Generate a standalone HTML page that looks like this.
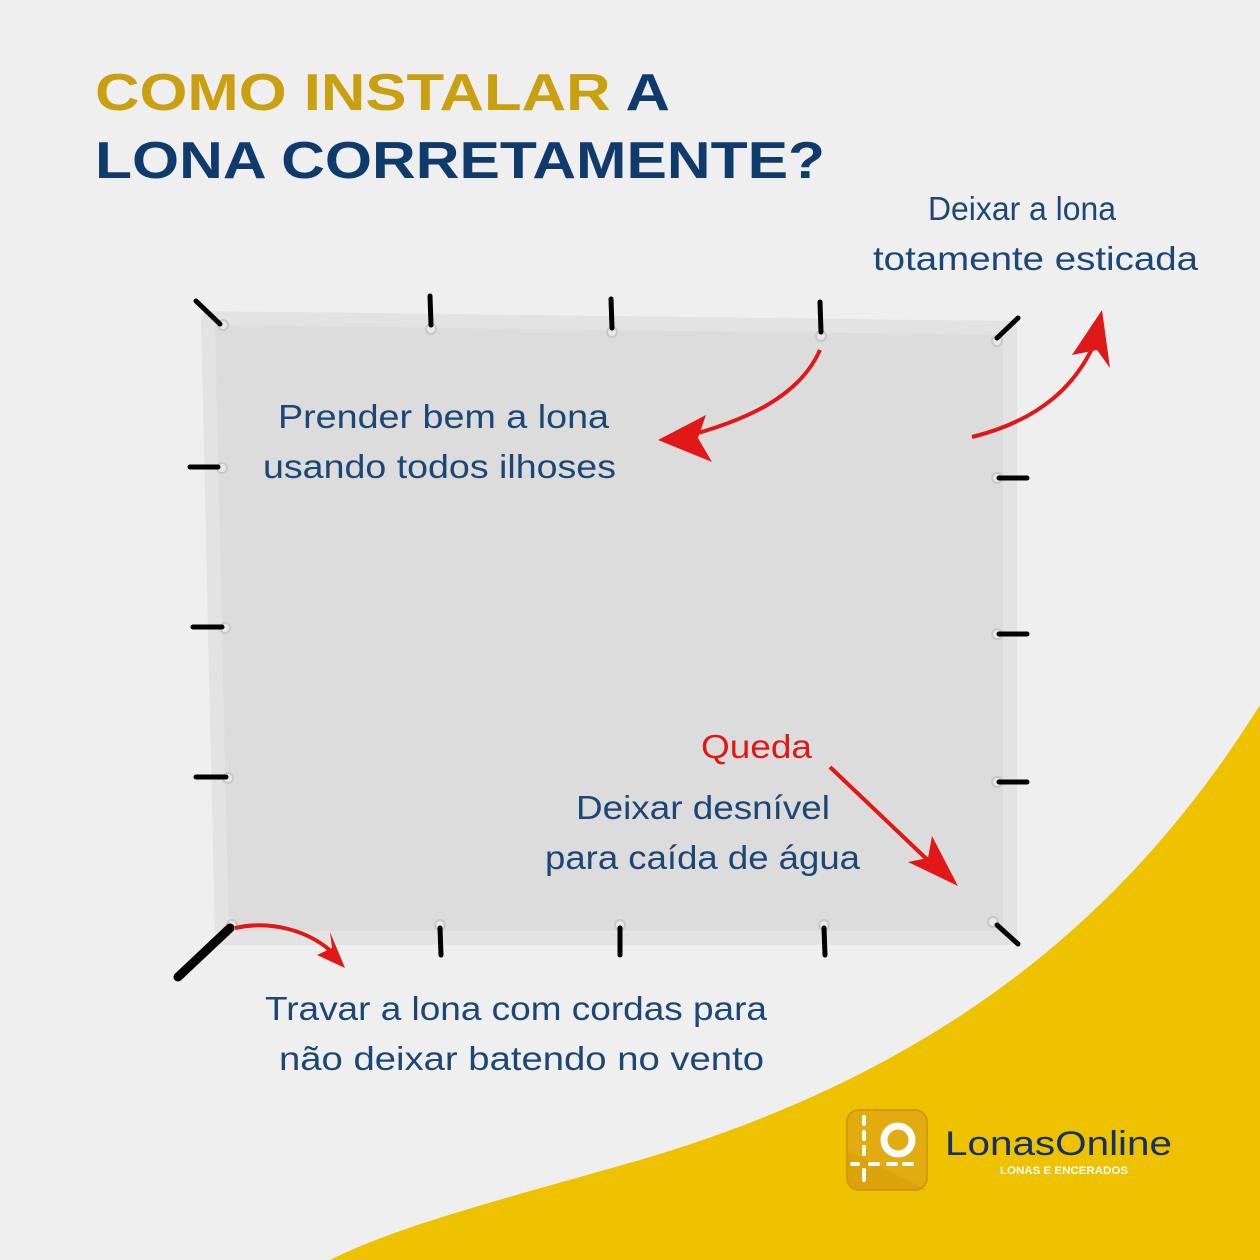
<!DOCTYPE html>
<html><head><meta charset="utf-8"><style>
html,body{margin:0;padding:0;background:#efefef}
svg{display:block}
.t{font-family:"Liberation Sans",sans-serif;font-size:33px;fill:#1c4775}
</style></head><body>
<svg width="1260" height="1260" viewBox="0 0 1260 1260" xmlns="http://www.w3.org/2000/svg">
<rect width="1260" height="1260" fill="#efefef"/>
<path d="M1260,705 C1150,880 980,1060 640,1160 C500,1200 400,1225 330,1260 L1260,1260 Z" fill="#efc200"/>
<polygon points="208,318 1010,328 1010,938 222,938" fill="#dcdcdc" stroke="#e3e3e3" stroke-width="14" stroke-linejoin="round"/>
<text x="95" y="110" font-family="Liberation Sans,sans-serif" font-weight="bold" font-size="52" fill="#c9a010" textLength="575" lengthAdjust="spacingAndGlyphs">COMO INSTALAR <tspan fill="#0f3a6c">A</tspan></text>
<text x="95" y="178" font-family="Liberation Sans,sans-serif" font-weight="bold" font-size="52" fill="#0f3a6c" textLength="730" lengthAdjust="spacingAndGlyphs">LONA CORRETAMENTE?</text>
<g fill="#e8e8e8" stroke="#c8c8c8" stroke-width="2">
<circle cx="223" cy="325" r="5"/><circle cx="431" cy="329" r="5"/><circle cx="612" cy="332" r="5"/><circle cx="821" cy="336" r="5"/><circle cx="997" cy="341" r="5"/>
<circle cx="222" cy="468" r="5"/><circle cx="225" cy="628" r="5"/><circle cx="228" cy="778" r="5"/><circle cx="232" cy="925" r="5"/>
<circle cx="997" cy="478" r="5"/><circle cx="997" cy="634" r="5"/><circle cx="997" cy="782" r="5"/><circle cx="993" cy="922" r="5"/>
<circle cx="440" cy="925" r="5"/><circle cx="620" cy="925" r="5"/><circle cx="824" cy="925" r="5"/>
</g>
<g stroke="#000" stroke-width="5" stroke-linecap="round">
<line x1="196" y1="301" x2="220" y2="324"/>
<line x1="430" y1="296" x2="431" y2="325"/>
<line x1="611" y1="299" x2="612" y2="328"/>
<line x1="820" y1="302" x2="821" y2="332"/>
<line x1="1018" y1="318" x2="997" y2="338"/>
<line x1="190" y1="467" x2="218" y2="467"/>
<line x1="193" y1="627" x2="222" y2="627"/>
<line x1="196" y1="777" x2="226" y2="777"/>
<line x1="178" y1="977" x2="230" y2="928" stroke-width="9"/>
<line x1="440" y1="928" x2="441" y2="955"/>
<line x1="620" y1="928" x2="620" y2="955"/>
<line x1="824" y1="928" x2="825" y2="955"/>
<line x1="997" y1="925" x2="1018" y2="944"/>
<line x1="999" y1="478" x2="1027" y2="478"/>
<line x1="999" y1="634" x2="1027" y2="634"/>
<line x1="999" y1="782" x2="1027" y2="782"/>
</g>
<g stroke="#e01818" stroke-width="4" fill="none">
<path d="M820,350 C800,395 750,420 680,438"/>
<path d="M972,437 C1040,420 1080,385 1100,330"/>
<path d="M235,928 C270,920 310,930 335,955"/>
<path d="M830,767 L935,867"/>
</g>
<g fill="#e01818">
<polygon points="658,440 706,415 698,438 712,462"/>
<polygon points="1102,310 1110,368 1097,350 1072,355"/>
<polygon points="345,968 317,955 332,948 330,932"/>
<polygon points="958,886 908,862 928,858 932,836"/>
</g>
<text class="t" x="928" y="220" textLength="188" lengthAdjust="spacingAndGlyphs">Deixar a lona</text>
<text class="t" x="873" y="270" textLength="325" lengthAdjust="spacingAndGlyphs">totamente esticada</text>
<text class="t" x="278" y="428" textLength="331" lengthAdjust="spacingAndGlyphs">Prender bem a lona</text>
<text class="t" x="263" y="478" textLength="353" lengthAdjust="spacingAndGlyphs">usando todos ilhoses</text>
<text class="t" x="701" y="758" textLength="111" lengthAdjust="spacingAndGlyphs" style="fill:#e01818">Queda</text>
<text class="t" x="576" y="819" textLength="254" lengthAdjust="spacingAndGlyphs">Deixar desnível</text>
<text class="t" x="545" y="869" textLength="315" lengthAdjust="spacingAndGlyphs">para caída de água</text>
<text class="t" x="265" y="1020" textLength="502" lengthAdjust="spacingAndGlyphs">Travar a lona com cordas para</text>
<text class="t" x="279" y="1070" textLength="485" lengthAdjust="spacingAndGlyphs">não deixar batendo no vento</text>
<rect x="847" y="1110" width="80" height="80" rx="12" fill="#e2ac10" stroke="#d09a08" stroke-width="2"/>
<path d="M847,1150 L927,1190 L859,1190 Q847,1190 847,1178 Z" fill="#d49a06" opacity="0.5"/>
<g stroke="#fff" stroke-width="4" stroke-linecap="round">
<line x1="864" y1="1117" x2="864" y2="1124"/><line x1="864" y1="1132" x2="864" y2="1139"/><line x1="864" y1="1147" x2="864" y2="1154"/>
<line x1="864" y1="1170" x2="864" y2="1180"/>
<line x1="852" y1="1164" x2="858" y2="1164"/><line x1="870" y1="1164" x2="878" y2="1164"/><line x1="888" y1="1164" x2="896" y2="1164"/><line x1="904" y1="1164" x2="912" y2="1164"/>
</g>
<circle cx="898" cy="1140" r="14" fill="none" stroke="#fff" stroke-width="7"/>
<text x="945" y="1155" font-family="Liberation Sans,sans-serif" font-size="34" fill="#13306a" textLength="227" lengthAdjust="spacingAndGlyphs">LonasOnline</text>
<text x="1000" y="1174" font-family="Liberation Sans,sans-serif" font-size="11" font-weight="bold" fill="#fff" textLength="128" lengthAdjust="spacingAndGlyphs">LONAS E ENCERADOS</text>
</svg>
</body></html>
